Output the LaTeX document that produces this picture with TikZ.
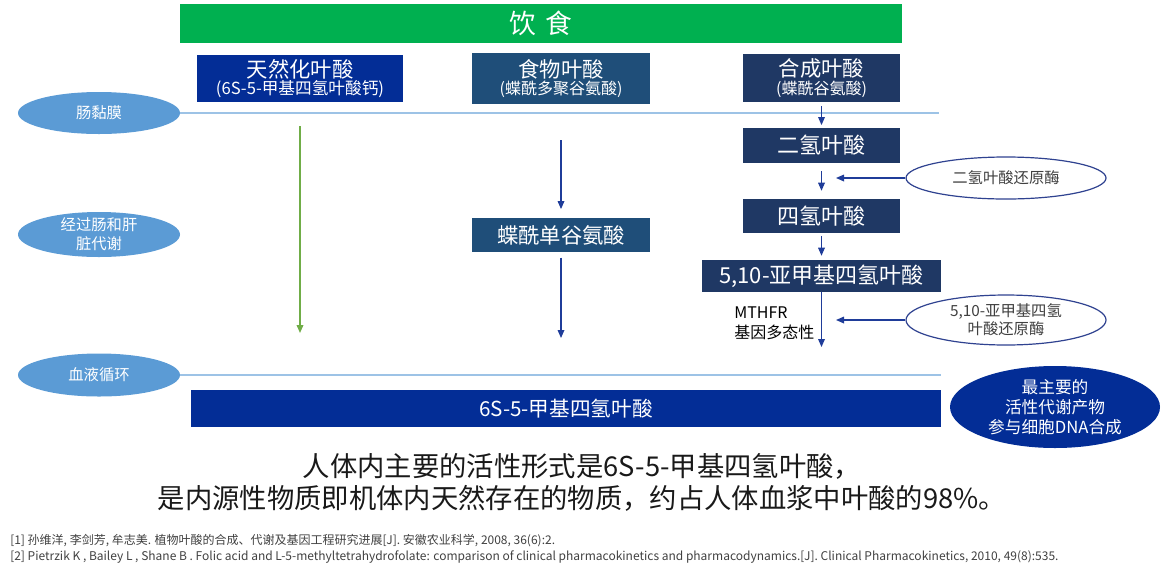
\documentclass[tikz,border=0pt]{standalone}
\usepackage{fontspec}
\setmainfont{Noto Sans CJK SC}
\usetikzlibrary{shapes.geometric,arrows.meta}
\definecolor{dietgreen}{HTML}{00B050}
\definecolor{royal}{HTML}{032D96}
\definecolor{steel}{HTML}{1F4E79}
\definecolor{navy}{HTML}{1F3864}
\definecolor{lellfill}{HTML}{5B9BD5}
\definecolor{sepline}{HTML}{9DC3E6}
\definecolor{arrblue}{HTML}{1F3C99}
\definecolor{arrgreen}{HTML}{70AD47}
\definecolor{rellline}{HTML}{2F4290}
\definecolor{txtgray}{HTML}{404040}
\newcommand{\fsz}[2]{\fontsize{#1}{#2}\selectfont}
\tikzset{
  wh/.style 2 args={minimum width={#1*0.75pt}, minimum height={#2*0.75pt}},
  fbox/.style={rectangle, inner sep=0pt, text=white, align=center},
  lell/.style={ellipse, fill=lellfill, draw=none, inner sep=0pt},
  ltext/.style={text=white, align=center, font=\fsz{11.5}{14}},
  rell/.style={ellipse, fill=white, draw=rellline, line width=0.9pt, inner sep=0pt},
  rtext/.style={text=txtgray, align=center, font=\fsz{11.5}{13.5}},
  barr/.style={draw=arrblue, line width=0.9pt, -{Triangle[length=6pt,width=5pt]}},
  garr/.style={draw=arrgreen, line width=1.1pt, -{Triangle[length=6pt,width=5pt]}},
  sep/.style={draw=sepline, line width=0.9pt},
}
\begin{document}
\begin{tikzpicture}[x=0.75pt, y=-0.75pt]
\useasboundingbox (0,0) rectangle (1162,572);

% diet bar
\node[fbox, fill=dietgreen, wh={722}{39}, font=\fsz{20}{24}] (diet) at (541,23.5) {饮\hspace{0.35em}食};

% top sources
\node[fbox, fill=royal, wh={206}{47}] (nat) at (300,78.5)
  {{\fsz{16}{19}天然化叶酸}\\[1pt]{\fsz{12.5}{14}(6S-5-甲基四氢叶酸钙)}};
\node[fbox, fill=steel, wh={178}{51}] (food) at (561,78.5)
  {{\fsz{16}{19}食物叶酸}\\[1pt]{\fsz{12}{14}(蝶酰多聚谷氨酸)}};
\node[fbox, fill=navy, wh={157}{48}] (syn) at (821.5,78)
  {{\fsz{16}{19}合成叶酸}\\[1pt]{\fsz{12}{14}(蝶酰谷氨酸)}};

% synthetic path
\node[fbox, fill=navy, wh={157}{35}, font=\fsz{16.5}{19}] (dhf) at (821.5,145.5) {二氢叶酸};
\node[fbox, fill=navy, wh={157}{34}, font=\fsz{16.5}{19}] (thf) at (821.5,216) {四氢叶酸};
\node[fbox, fill=navy, wh={239}{32}, font=\fsz{16.5}{19}] (mthf) at (821.5,276) {5,10-亚甲基四氢叶酸};

% food path
\node[fbox, fill=steel, wh={178}{34}, font=\fsz{16}{19}] (pteglu) at (561,235) {蝶酰单谷氨酸};

% bottom bar
\node[fbox, fill=royal, wh={750}{37}, font=\fsz{15.5}{18}] (active) at (566,408.5) {6S-5-甲基四氢叶酸};

% left ellipses
\node[lell, wh={162}{42}, label={[ltext]center:肠黏膜}] (mucosa) at (99,113) {};
\node[lell, wh={162}{45}, label={[ltext]center:经过肠和肝\\脏代谢}] (liver) at (99,234.5) {};
\node[lell, wh={162}{43}, label={[ltext]center:血液循环}] (blood) at (99,375) {};

% right ellipses
\node[rell, wh={200}{42}, label={[rtext]center:二氢叶酸还原酶}] (dhfr) at (1006,178) {};
\node[rell, wh={200}{50}, label={[rtext]center:5,10-亚甲基四氢\\叶酸还原酶}] (mthfr) at (1006,320) {};
\node[ellipse, fill=royal, inner sep=0pt, wh={210}{82},
  label={[text=white, align=center, font=\fsz{12.5}{15}]center:最主要的\\活性代谢产物\\参与细胞DNA合成}] (main) at (1055,407) {};

% MTHFR label
\node[anchor=west, align=left, font=\fsz{12}{15}, text=black, inner sep=0pt] (mthfrlab) at (734,323) {MTHFR\\基因多态性};

% coordinates
\coordinate (sepA) at (939,113);
\coordinate (sepB) at (941,375);
\coordinate (gEnd) at (300,333);
\coordinate (pEnd) at (561,338);
\coordinate (mEnd) at (821.5,347);
\coordinate (dIn) at (836,178);
\coordinate (mIn) at (836,320);

% separator lines
\draw[sep] (mucosa.east) -- (sepA);
\draw[sep] (blood.east) -- (sepB);

% arrows
\draw[garr, shorten <=18pt] (nat) -- (gEnd);
\draw[barr, shorten <=27pt, shorten >=6.5pt] (food) -- (pteglu);
\draw[barr, shorten <=4pt] (pteglu) -- (pEnd);
\draw[barr, shorten <=3pt, shorten >=2pt] (syn) -- (dhf);
\draw[barr, shorten <=6pt, shorten >=6pt] (dhf) -- (thf);
\draw[barr, shorten <=2pt, shorten >=3pt] (thf) -- (mthf);
\draw[barr] (mthf) -- (mEnd);
\draw[barr] (dhfr) -- (dIn);
\draw[barr] (mthfr) -- (mIn);

% summary text
\node[align=center, font=\fsz{20.5}{24}, text=black!90] (summary) at (582,482)
  {人体内主要的活性形式是6S-5-甲基四氢叶酸，\\是内源性物质即机体内天然存在的物质，约占人体血浆中叶酸的98\%。};

% references
\node[anchor=north west, align=left, font=\fsz{9}{12}, text=txtgray, inner sep=0pt] (refs) at (10,534)
  {[1] 孙维洋, 李剑芳, 牟志美. 植物叶酸的合成、代谢及基因工程研究进展[J]. 安徽农业科学, 2008, 36(6):2.\\\relax
   [2] Pietrzik K , Bailey L , Shane B . Folic acid and L-5-methyltetrahydrofolate: comparison of clinical pharmacokinetics and pharmacodynamics.[J]. Clinical Pharmacokinetics, 2010, 49(8):535.};
\end{tikzpicture}
\end{document}
